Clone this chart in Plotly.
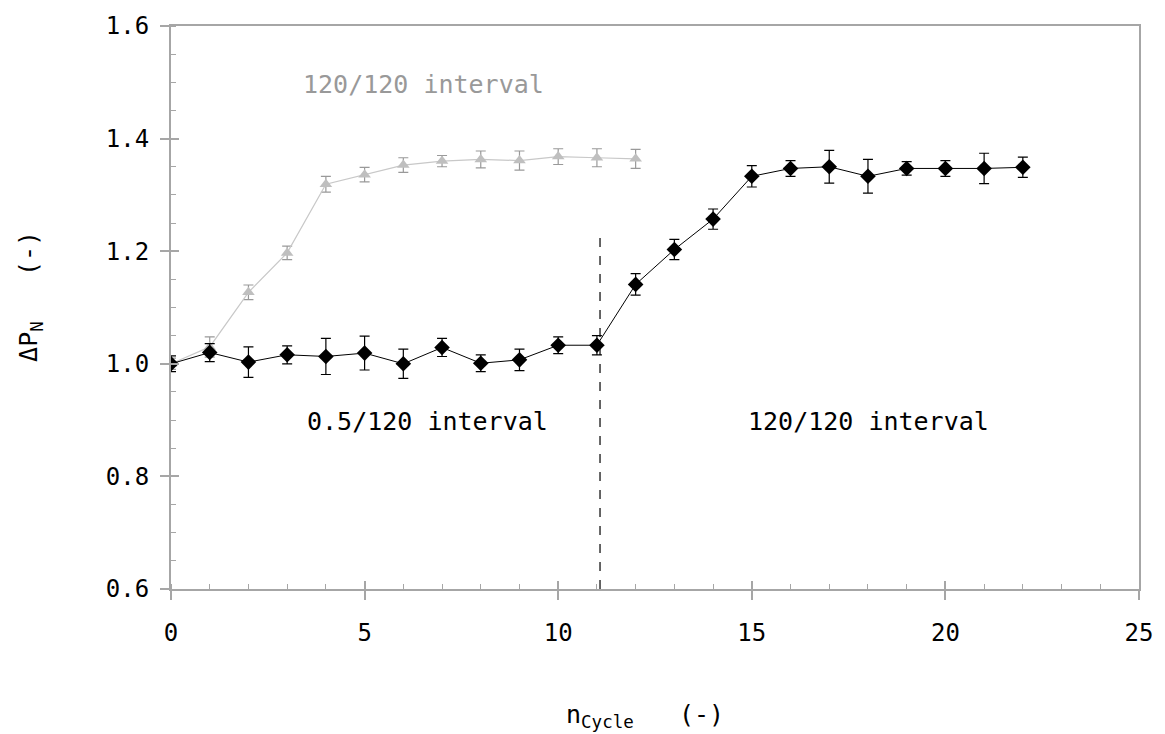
import plotly.graph_objects as go

# Data
n_a = [0, 1, 2, 3, 4, 5, 6, 7, 8, 9, 10, 11, 12, 13, 14, 15, 16, 17, 18, 19, 20, 21, 22]
p_a = [1.000, 1.020, 1.003, 1.016, 1.013, 1.019, 1.000, 1.029, 1.001, 1.007, 1.033, 1.033,
       1.141, 1.203, 1.257, 1.333, 1.347, 1.350, 1.333, 1.347, 1.347, 1.347, 1.349]
e_a = [0.014, 0.016, 0.027, 0.016, 0.032, 0.030, 0.026, 0.016, 0.015, 0.019, 0.015, 0.017,
       0.019, 0.018, 0.018, 0.019, 0.014, 0.029, 0.030, 0.012, 0.014, 0.027, 0.018]

n_b = [0, 1, 2, 3, 4, 5, 6, 7, 8, 9, 10, 11, 12]
p_b = [1.000, 1.030, 1.127, 1.197, 1.319, 1.336, 1.353, 1.360, 1.363, 1.361, 1.368, 1.366, 1.364]
e_b = [0.010, 0.018, 0.013, 0.012, 0.014, 0.013, 0.013, 0.010, 0.015, 0.017, 0.014, 0.016, 0.017]

switch_x = 11.08
switch_top = 1.225

FONT = "DejaVu Sans Mono"
AX = "#a6a6a6"
TXT = 25

fig = go.Figure()

fig.add_trace(go.Scatter(
    x=n_b, y=p_b, mode="lines+markers",
    line=dict(color="#c8c8c8", width=1.2),
    marker=dict(symbol="triangle-up", size=11, color="#bfbfbf"),
    error_y=dict(type="data", array=e_b, color="#999999", thickness=1.2, width=5),
    showlegend=False))

fig.add_trace(go.Scatter(
    x=n_a, y=p_a, mode="lines+markers",
    line=dict(color="#000000", width=1),
    marker=dict(symbol="diamond", size=12, color="#000000"),
    error_y=dict(type="data", array=e_a, color="#000000", thickness=1.2, width=5),
    showlegend=False))

# dummy trace for overlay axes (inside part of the major ticks)
fig.add_trace(go.Scatter(x=[None], y=[None], xaxis="x2", yaxis="y2", showlegend=False))

fig.add_shape(type="line", x0=switch_x, x1=switch_x, y0=0.6, y1=switch_top,
              line=dict(color="black", width=1.2, dash="dash"))

fig.add_annotation(x=6.52, y=1.496, text="120/120 interval", showarrow=False,
                   font=dict(family=FONT, size=TXT, color="#999999"))
fig.add_annotation(x=6.62, y=0.897, text="0.5/120 interval", showarrow=False,
                   font=dict(family=FONT, size=TXT, color="black"))
fig.add_annotation(x=18.02, y=0.897, text="120/120 interval", showarrow=False,
                   font=dict(family=FONT, size=TXT, color="black"))

# axis titles
fig.add_annotation(xref="paper", yref="paper", x=0.49, y=-0.225, yanchor="middle",
                   text="n<sub>Cycle</sub>\u00a0\u00a0\u00a0(-)", showarrow=False,
                   font=dict(family=FONT, size=TXT, color="black"))
fig.add_annotation(xref="paper", yref="paper", x=-0.145, y=0.52, xanchor="center",
                   text="\u0394P<sub>N</sub>\u00a0\u00a0\u00a0(-)", showarrow=False, textangle=-90,
                   font=dict(family=FONT, size=TXT, color="black"))

common_x = dict(range=[0, 25], dtick=5, tick0=0)
common_y = dict(range=[0.6, 1.6], dtick=0.2, tick0=0.6)

fig.update_layout(
    width=1165, height=734,
    margin=dict(l=171, r=20, t=24, b=145),
    paper_bgcolor="white", plot_bgcolor="white",
    font=dict(family=FONT, size=24, color="black"),
    xaxis=dict(**common_x, showgrid=False, zeroline=False,
               showline=True, linecolor=AX, linewidth=2, mirror=True,
               ticks="outside", ticklen=9, tickwidth=1.5, tickcolor=AX,
               tickformat="d", ticklabelstandoff=12,
               minor=dict(dtick=1, ticks="inside", ticklen=5, tickcolor=AX, tickwidth=1.2)),
    yaxis=dict(**common_y, showgrid=False, zeroline=False,
               showline=True, linecolor=AX, linewidth=2, mirror=True,
               ticks="outside", ticklen=9, tickwidth=1.5, tickcolor=AX,
               tickformat=".1f", ticklabelstandoff=6,
               minor=dict(dtick=0.05, ticks="inside", ticklen=5, tickcolor=AX, tickwidth=1.2)),
    xaxis2=dict(**common_x, overlaying="x", anchor="y", showgrid=False, zeroline=False,
                showline=False, showticklabels=False,
                ticks="inside", ticklen=8, tickwidth=1.5, tickcolor=AX),
    yaxis2=dict(**common_y, overlaying="y", anchor="x", showgrid=False, zeroline=False,
                showline=False, showticklabels=False,
                ticks="inside", ticklen=8, tickwidth=1.5, tickcolor=AX),
)

fig.write_html("out.html")
